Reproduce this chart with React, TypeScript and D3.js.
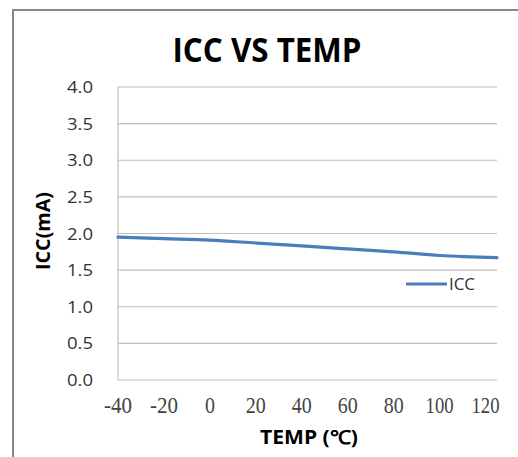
import React from "react";
import * as d3 from "d3";

const temps = [-40, -20, 0, 20, 40, 60, 80, 100, 125];
const icc = [1.95, 1.93, 1.91, 1.87, 1.83, 1.79, 1.75, 1.70, 1.67];
const xTicks = [-40, -20, 0, 20, 40, 60, 80, 100, 120];
const yTicks = [0, 0.5, 1, 1.5, 2, 2.5, 3, 3.5, 4];
const title = "ICC VS TEMP";
const xTitle = "TEMP (℃)";
const yTitle = "ICC(mA)";
const seriesName = "ICC";

export default function App() {
  const W = 518, H = 457;
  const x = d3.scaleLinear().domain([-40, 125]).range([118, 497]);
  const y = d3.scaleLinear().domain([0, 4]).range([380, 87]);
  const pts: [number, number][] = temps.map((t, i) => [t, icc[i]]);
  const line = d3.line<[number, number]>()
    .x(d => x(d[0]))
    .y(d => y(d[1]))
    .curve(d3.curveMonotoneX);
  const lineColor = "#4A7EBB";
  return (
    <svg width={W} height={H} style={{ position: "absolute", left: 0, top: 0, background: "#fff" }}>
      <rect x={13} y={10} width={W} height={H} fill="#fff" stroke="#888" strokeWidth={2} />
      <text x={267} y={62} textAnchor="middle" fontFamily="'Open Sans', sans-serif" fontWeight="bold" fontSize={34} textLength={189} lengthAdjust="spacingAndGlyphs" fill="#000">{title}</text>
      {yTicks.map(v => (
        <line key={"g" + v} x1={x(-40)} x2={x(125)} y1={y(v)} y2={y(v)} stroke="#BFBFBF" strokeWidth={1.2} />
      ))}
      <line x1={x(-40)} x2={x(-40)} y1={y(4)} y2={y(0)} stroke="#BFBFBF" strokeWidth={1.2} />
      {yTicks.map(v => (
        <text key={"yl" + v} x={93} y={y(v) + 6} textAnchor="end" fontFamily="'Open Sans', sans-serif" fontSize={17} fill="#333" textLength={26} lengthAdjust="spacingAndGlyphs">{v.toFixed(1)}</text>
      ))}
      {xTicks.map(v => {
        const s = String(v);
        const len = s.length === 1 ? 10 : s.length === 2 ? 20 : 28;
        return (
          <text key={"xl" + v} x={x(v)} y={413} textAnchor="middle" fontFamily="'Liberation Serif', serif" fontSize={23} fill="#444" textLength={len} lengthAdjust="spacingAndGlyphs">{s}</text>
        );
      })}
      <path d={line(pts) || ""} fill="none" stroke={lineColor} strokeWidth={3.2} strokeLinecap="round" />
      <line x1={406} x2={447} y1={284} y2={284} stroke={lineColor} strokeWidth={3.2} />
      <text x={449} y={290} fontFamily="'Open Sans', sans-serif" fontSize={17} fill="#333" textLength={26} lengthAdjust="spacingAndGlyphs">{seriesName}</text>
      <text x={309} y={444} textAnchor="middle" fontFamily="'Open Sans', sans-serif" fontWeight="bold" fontSize={19} fill="#000" textLength={98} lengthAdjust="spacingAndGlyphs">{xTitle}</text>
      <text transform="translate(50,231) rotate(-90)" textAnchor="middle" fontFamily="'Open Sans', sans-serif" fontWeight="bold" fontSize={19} fill="#000" textLength={78} lengthAdjust="spacingAndGlyphs">{yTitle}</text>
    </svg>
  );
}
